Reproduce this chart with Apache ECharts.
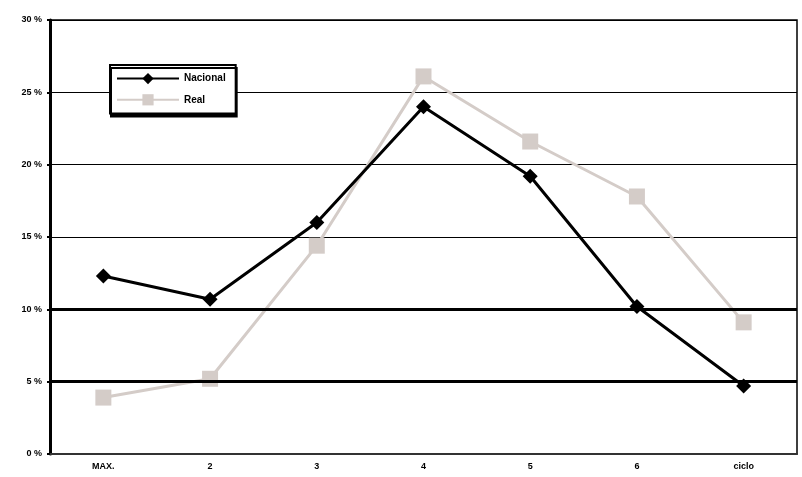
<!DOCTYPE html>
<html><head><meta charset="utf-8">
<script src="https://cdn.jsdelivr.net/npm/echarts@6/dist/echarts.min.js"></script>
<style>html,body{margin:0;padding:0;background:#fff}#c{width:802px;height:477px}</style>
</head><body><div id="c"></div>
<script>
const categories = ["MAX.", "2", "3", "4", "5", "6", "ciclo"];
const seriesNacional = [12.3, 10.7, 16.0, 24.0, 19.2, 10.2, 4.7];
const seriesReal = [3.9, 5.2, 14.4, 26.1, 21.6, 17.8, 9.1];
const seriesNames = ["Nacional", "Real"];
const thickLines = [5, 10];

const chart = echarts.init(document.getElementById('c'));
chart.setOption({
  backgroundColor: '#fff',
  animation: false,
  grid: { left: 50, right: 5, top: 20, bottom: 23, show: true, borderColor: '#000', borderWidth: 1.5 },
  legend: {
    left: 110, top: 65, orient: 'vertical',
    backgroundColor: '#fff', borderColor: '#000', borderWidth: 2,
    shadowColor: '#000', shadowOffsetX: 1, shadowOffsetY: 3, shadowBlur: 0,
    padding: [8, 10, 8, 6], itemGap: 10, itemWidth: 62, itemHeight: 14,
    textStyle: { fontSize: 10, fontWeight: 'bold', color: '#000', fontFamily: 'Liberation Sans' },
    data: seriesNames
  },
  xAxis: {
    type: 'category', data: categories, boundaryGap: true,
    axisLine: { lineStyle: { color: '#333', width: 2 } },
    axisTick: { lineStyle: { color: '#333', width: 2 }, length: 4 },
    axisLabel: { fontSize: 9, fontWeight: 'bold', color: '#000', fontFamily: 'Liberation Sans', margin: 8 }
  },
  yAxis: {
    type: 'value', min: 0, max: 30, interval: 5,
    axisLine: { show: true, lineStyle: { color: '#000', width: 3 } },
    axisTick: { show: true, length: 3, lineStyle: { color: '#000', width: 2 } },
    axisLabel: { fontSize: 9, fontWeight: 'bold', color: '#000', fontFamily: 'Liberation Sans', margin: 8, formatter: '{value} %' },
    splitLine: { lineStyle: { color: '#000', width: 1.2 } }
  },
  series: [
    {
      name: seriesNames[1], type: 'line', data: seriesReal,
      symbol: 'rect', symbolSize: 16,
      lineStyle: { color: '#d4ccc8', width: 3 },
      itemStyle: { color: '#d4ccc8' }, z: 2
    },
    {
      name: seriesNames[0], type: 'line', data: seriesNacional,
      symbol: 'diamond', symbolSize: 15,
      lineStyle: { color: '#000', width: 3 },
      itemStyle: { color: '#000' }, z: 3,
      markLine: {
        silent: true, symbol: 'none', label: { show: false },
        lineStyle: { color: '#000', width: 3, type: 'solid' },
        data: thickLines.map(v => ({ yAxis: v }))
      }
    }
  ]
});
</script></body></html>
